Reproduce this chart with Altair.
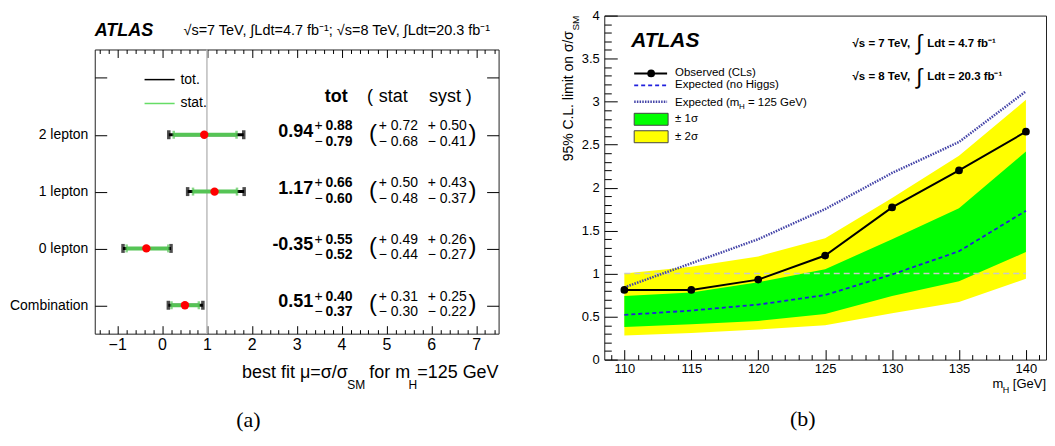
import altair as alt
import numpy as np
import pandas as pd

# ---------------- panel (a) data ----------------
categories = ["2 lepton", "1 lepton", "0 lepton", "Combination"]
mu_best = [0.94, 1.17, -0.35, 0.51]
tot_up = [0.88, 0.66, 0.55, 0.40]
tot_dn = [0.79, 0.60, 0.52, 0.37]
stat_up = [0.72, 0.50, 0.49, 0.31]
stat_dn = [0.68, 0.48, 0.44, 0.30]
syst_up = [0.50, 0.43, 0.26, 0.25]
syst_dn = [0.41, 0.37, 0.27, 0.22]
mu_sm = [1.0]
x_ticks_a = [-1, 0, 1, 2, 3, 4, 5, 6, 7]

# ---------------- panel (b) data ----------------
mass = [110, 115, 120, 125, 130, 135, 140]
observed = [0.81, 0.81, 0.93, 1.21, 1.77, 2.20, 2.65]
expected_nohiggs = [0.52, 0.57, 0.64, 0.75, 0.99, 1.26, 1.73]
expected_mh125 = [0.84, 1.12, 1.40, 1.75, 2.17, 2.53, 3.12]
band1_lo = [0.38, 0.41, 0.45, 0.53, 0.74, 0.91, 1.25]
band1_hi = [0.74, 0.78, 0.90, 1.05, 1.40, 1.76, 2.42]
band2_lo = [0.28, 0.31, 0.35, 0.40, 0.54, 0.67, 0.94]
band2_hi = [1.00, 1.08, 1.20, 1.41, 1.88, 2.37, 3.02]
x_ticks_b = [110, 115, 120, 125, 130, 135, 140]
y_ticks_b = [0, 0.5, 1, 1.5, 2, 2.5, 3, 3.5, 4]

FONT = "Liberation Sans"
MINUS = "\u2212"

# Arial / Liberation Sans advance widths (1/1000 em), for placing sub/superscripts
AW = {' ': 278, '%': 889, '(': 333, ')': 333, '.': 278, '/': 278, '=': 584, '[': 278,
      ']': 278, '+': 584, 'C': 722, 'E': 667, 'G': 778, 'H': 722, 'L': 556, 'M': 833,
      'S': 667, 'V': 667, 'a': 556, 'b': 556, 'c': 500, 'd': 556, 'e': 556, 'f': 278,
      'i': 222, 'l': 222, 'm': 833, 'n': 556, 'o': 556, 'p': 556, 'r': 333, 's': 500,
      't': 278, 'x': 500, 'μ': 576, 'σ': 600}
for _d in "0123456789":
    AW[_d] = 556


def tw(s, size):
    return sum(AW.get(c, 556) for c in s) * size / 1000.0


one = pd.DataFrame({"k": [0]})


def txt(text, x, y, size=12, bold=False, italic=False, align="left",
        baseline="middle", angle=0, font=FONT):
    kw = dict(text=text, align=align, baseline=baseline, fontSize=size,
              color="black", font=font)
    if bold:
        kw["fontWeight"] = "bold"
    if italic:
        kw["fontStyle"] = "italic"
    if angle:
        kw["angle"] = angle
    return alt.Chart(one).mark_text(**kw).encode(x=alt.value(x), y=alt.value(y))


def rich(pieces, x0, y0, align="left"):
    """Pieces (text, size, dy, dx) set one after another; leading blanks are
    turned into an x advance because SVG drops them."""
    total = sum(tw(p[0], p[1]) + p[3] for p in pieces)
    x = x0 - total if align == "right" else x0
    out = []
    for t, s, dy, dx in pieces:
        x += dx
        lead = len(t) - len(t.lstrip(" "))
        x += tw(" " * lead, s)
        body = t.lstrip(" ")
        out.append(txt(body, x, y0 + dy, size=s, baseline="alphabetic"))
        x += tw(body, s)
    return out


def tick_axis(orient, offset, values, size):
    return alt.Axis(orient=orient, offset=offset, values=values, tickSize=size,
                    labels=False, domain=False, title=None, grid=False,
                    tickColor="black", tickWidth=1)


# ======================= panel (a) =======================
W_A, H_A = 405, 285
xs_a = alt.Scale(domain=[-1.5, 7.5], nice=False, zero=False)
ys_a = alt.Scale(domain=[0, 5], nice=False, zero=False)

n = len(categories)
df_a = pd.DataFrame({
    "cat": categories,
    "row": [n - i - 0.5 for i in range(n)],
    "mu": mu_best,
    "tot_lo": [m - d for m, d in zip(mu_best, tot_dn)],
    "tot_hi": [m + u for m, u in zip(mu_best, tot_up)],
    "stat_lo": [m - d for m, d in zip(mu_best, stat_dn)],
    "stat_hi": [m + u for m, u in zip(mu_best, stat_up)],
    "mu_s": [f"{m:.2f}" for m in mu_best],
    "tu_s": [f"{v:.2f}" for v in tot_up],
    "td_s": [f"{v:.2f}" for v in tot_dn],
    "su_s": [f"+ {v:.2f}" for v in stat_up],
    "sd_s": [f"{MINUS} {v:.2f}" for v in stat_dn],
    "yu_s": [f"+ {v:.2f}" for v in syst_up],
    "yd_s": [f"{MINUS} {v:.2f}" for v in syst_dn],
})
rows = list(df_a["row"])
tick_rows = [float(v) for v in np.arange(0.5, 5.0, 1.0)]
minor_a = [round(float(v), 1) for v in np.arange(-1.4, 7.45, 0.2)
           if abs(v - round(v)) > 1e-6]
label_expr = " : ".join(f"datum.value == {r} ? '{c}'" for r, c in zip(rows, categories)) + " : ''"

base_a = alt.Chart(df_a)
GREEN_A = "#55c455"

vline = alt.Chart(pd.DataFrame({"mu_sm": mu_sm})).mark_rule(
    color="#bdbdbd", strokeWidth=1.5).encode(
    x=alt.X("mu_sm:Q", scale=xs_a,
            axis=alt.Axis(orient="bottom", offset=0, values=x_ticks_a, ticks=False,
                          domain=False, labelFontSize=16, labelPadding=3, title=None,
                          grid=False, labelColor="black", labelFont=FONT)))

tot_rule = base_a.mark_rule(color="black", strokeWidth=3).encode(
    x=alt.X("tot_lo:Q", scale=xs_a, axis=tick_axis("top", -H_A, x_ticks_a, 8)),
    x2="tot_hi:Q",
    y=alt.Y("row:Q", scale=ys_a,
            axis=alt.Axis(orient="left", offset=0, values=rows, labelExpr=label_expr,
                          ticks=False, domain=False, labelFontSize=14, labelPadding=7,
                          title=None, grid=False, labelColor="black", labelFont=FONT)))

stat_rule = base_a.mark_rule(color=GREEN_A, strokeWidth=4).encode(
    x=alt.X("stat_lo:Q", scale=xs_a, axis=tick_axis("top", -H_A, minor_a, 4)),
    x2="stat_hi:Q",
    y=alt.Y("row:Q", scale=ys_a, axis=tick_axis("right", -W_A, tick_rows, 12)))

cap_tot_lo = base_a.mark_tick(orient="vertical", color="black", size=9, thickness=3.5).encode(
    x=alt.X("tot_lo:Q", scale=xs_a, axis=tick_axis("bottom", -H_A, x_ticks_a, 8)),
    y=alt.Y("row:Q", scale=ys_a, axis=tick_axis("left", -W_A, tick_rows, 12)))
cap_tot_hi = base_a.mark_tick(orient="vertical", color="black", size=9, thickness=3.5).encode(
    x=alt.X("tot_hi:Q", scale=xs_a, axis=tick_axis("bottom", -H_A, minor_a, 4)),
    y=alt.Y("row:Q", scale=ys_a, axis=None))
cap_stat_lo = base_a.mark_tick(orient="vertical", color=GREEN_A, size=8, thickness=2.5).encode(
    x=alt.X("stat_lo:Q", scale=xs_a, axis=None), y=alt.Y("row:Q", scale=ys_a, axis=None))
cap_stat_hi = base_a.mark_tick(orient="vertical", color=GREEN_A, size=8, thickness=2.5).encode(
    x=alt.X("stat_hi:Q", scale=xs_a, axis=None), y=alt.Y("row:Q", scale=ys_a, axis=None))
points_a = base_a.mark_circle(size=70, color="#ff0000", opacity=1).encode(
    x=alt.X("mu:Q", scale=xs_a, axis=None), y=alt.Y("row:Q", scale=ys_a, axis=None))


def row_text(xval, dy, size, field=None, const=None, bold=False, align="left"):
    kw = dict(align=align, baseline="alphabetic", dy=dy, fontSize=size,
              color="black", font=FONT)
    if bold:
        kw["fontWeight"] = "bold"
    if const is not None:
        kw["text"] = const
    enc = dict(x=alt.XDatum(xval, scale=xs_a, axis=None),
               y=alt.Y("row:Q", scale=ys_a, axis=None))
    if field is not None:
        enc["text"] = alt.Text(f"{field}:N")
    return base_a.mark_text(**kw).encode(**enc)


texts_a = [
    row_text(3.37, 2, 18, field="mu_s", bold=True, align="right"),
    row_text(3.40, -4.5, 14, const="+"),
    row_text(3.40, 11, 14, const=MINUS),
    row_text(3.64, -4.5, 14, field="tu_s", bold=True),
    row_text(3.64, 11, 14, field="td_s", bold=True),
    row_text(4.61, 6, 24, const="("),
    row_text(4.83, -4.5, 14, field="su_s"),
    row_text(4.83, 11, 14, field="sd_s"),
    row_text(5.92, -4.5, 14, field="yu_s"),
    row_text(5.92, 11, 14, field="yd_s"),
    row_text(6.83, 6, 24, const=")"),
]


def dtext(text, xval, yval, size, bold=False, align="left"):
    kw = dict(text=text, align=align, baseline="middle", fontSize=size,
              color="black", font=FONT)
    if bold:
        kw["fontWeight"] = "bold"
    return alt.Chart(one).mark_text(**kw).encode(
        x=alt.XDatum(xval, scale=xs_a, axis=None),
        y=alt.YDatum(yval, scale=ys_a, axis=None))


header_a = [
    dtext("tot", 3.88, 4.16, 18, bold=True, align="center"),
    dtext("(", 4.57, 4.16, 18),
    dtext("stat", 4.83, 4.16, 18),
    dtext("syst", 5.95, 4.16, 18),
    dtext(")", 6.77, 4.16, 18),
    dtext("tot.", 0.41, 4.47, 14),
    dtext("stat.", 0.41, 4.05, 14),
]


def leg_line(color, yval):
    return alt.Chart(one).mark_rule(color=color, strokeWidth=1.5).encode(
        x=alt.XDatum(-0.39, scale=xs_a, axis=None), x2=alt.X2Datum(0.28),
        y=alt.YDatum(yval, scale=ys_a, axis=None))


legend_a = [leg_line("black", 4.47), leg_line("#66dd66", 4.05)]

xtitle_a = rich([("best fit μ=σ/σ", 18, 0, 0), ("SM", 12, 11, 0), (" for m", 18, 0, -1),
                 ("H", 12, 11, -1.5), ("=125 GeV", 18, 0, 0)], W_A, H_A + 44, align="right")
caption_a = txt("(a)", 154, 372, size=22, align="center", font="Liberation Serif")

panel_a = alt.layer(
    vline, tot_rule, stat_rule, cap_tot_lo, cap_tot_hi, cap_stat_lo, cap_stat_hi,
    points_a, *texts_a, *header_a, *legend_a, *xtitle_a, caption_a
).resolve_axis(x="independent", y="independent").properties(width=W_A, height=H_A)

hdr_a = alt.layer(
    txt("ATLAS", 0, 15, size=18, bold=True, italic=True),
    txt("√s=7 TeV, ∫Ldt=4.7 fb⁻¹; √s=8 TeV, ∫Ldt=20.3 fb⁻¹", 89, 15, size=14.5),
).properties(width=W_A, height=31, view=alt.ViewBackground(stroke="transparent"))

left = alt.vconcat(hdr_a, panel_a, spacing=0)

# ======================= panel (b) =======================
W_B, H_B = 443, 345
xs_b = alt.Scale(domain=[108.5, 141.5], nice=False, zero=False)
ys_b = alt.Scale(domain=[0, 4], nice=False, zero=False)

df_b = pd.DataFrame({"mass": mass, "obs": observed, "exp0": expected_nohiggs,
                     "exp125": expected_mh125, "b1lo": band1_lo, "b1hi": band1_hi,
                     "b2lo": band2_lo, "b2hi": band2_hi})
base_b = alt.Chart(df_b)
minor_xb = [v for v in range(109, 142) if v % 5]
minor_yb = [round(float(v), 1) for v in np.arange(0.1, 4.0, 0.1) if round(v * 10) % 5]

yellow = base_b.mark_area(color="#ffff00", opacity=1).encode(
    x=alt.X("mass:Q", scale=xs_b,
            axis=alt.Axis(orient="bottom", offset=0, values=x_ticks_b, ticks=False,
                          domain=False, labelFontSize=13, labelPadding=3, title=None,
                          grid=False, labelColor="black", labelFont=FONT)),
    y=alt.Y("b2lo:Q", scale=ys_b,
            axis=alt.Axis(orient="left", offset=0, values=y_ticks_b, format="~g",
                          ticks=False, domain=False, labelFontSize=13, labelPadding=5,
                          title=None, grid=False, labelColor="black", labelFont=FONT)),
    y2="b2hi:Q")
green = base_b.mark_area(color="#00ff00", opacity=1).encode(
    x=alt.X("mass:Q", scale=xs_b, axis=tick_axis("top", -H_B, x_ticks_b, 10)),
    y=alt.Y("b1lo:Q", scale=ys_b, axis=tick_axis("right", -W_B, y_ticks_b, 13)),
    y2="b1hi:Q")
hline = alt.Chart(pd.DataFrame({"x0": [mass[0]], "x1": [mass[-1]], "mu": mu_sm})).mark_rule(
    color="#c8c8c8", strokeDash=[6, 4], strokeWidth=1.5).encode(
    x=alt.X("x0:Q", scale=xs_b, axis=None), x2="x1:Q",
    y=alt.Y("mu:Q", scale=ys_b, axis=None))
exp125_line = base_b.mark_line(color="#4444a8", strokeWidth=2.5, strokeDash=[1.5, 1.2]).encode(
    x=alt.X("mass:Q", scale=xs_b, axis=None), y=alt.Y("exp125:Q", scale=ys_b, axis=None))
exp0_line = base_b.mark_line(color="#2020dd", strokeWidth=1.8, strokeDash=[4, 3]).encode(
    x=alt.X("mass:Q", scale=xs_b, axis=None), y=alt.Y("exp0:Q", scale=ys_b, axis=None))
obs_line = base_b.mark_line(color="black", strokeWidth=2).encode(
    x=alt.X("mass:Q", scale=xs_b, axis=tick_axis("top", -H_B, minor_xb, 5)),
    y=alt.Y("obs:Q", scale=ys_b, axis=tick_axis("right", -W_B, minor_yb, 7)))
obs_pts = base_b.mark_circle(size=60, color="black", opacity=1).encode(
    x=alt.X("mass:Q", scale=xs_b, axis=None), y=alt.Y("obs:Q", scale=ys_b, axis=None))


def pline(y, color, width, dash=None):
    kw = dict(color=color, strokeWidth=width)
    if dash:
        kw["strokeDash"] = dash
    return alt.Chart(one).mark_rule(**kw).encode(
        x=alt.value(30), x2=alt.value(63), y=alt.value(y))


def pbox(y0, y1, color):
    return alt.Chart(one).mark_rect(fill=color, stroke="#444444", strokeWidth=1).encode(
        x=alt.value(30), x2=alt.value(64), y=alt.value(y0), y2=alt.value(y1))


LEG = 11.5
legend_b = [
    pline(58, "black", 2),
    alt.Chart(one).mark_circle(size=60, color="black", opacity=1).encode(
        x=alt.value(47), y=alt.value(58)),
    txt("Observed (CLs)", 71, 58, size=LEG),
    pline(70, "#2020dd", 1.8, [4, 3]),
    txt("Expected (no Higgs)", 71, 70, size=LEG),
    pline(86.5, "#4444a8", 2.5, [1.5, 1.2]),
    *rich([("Expected (m", LEG, 0, 0), ("H", 8, 3, -0.5), (" = 125 GeV)", LEG, 0, 0)], 71, 90.5),
    pbox(98, 110, "#00ff00"),
    txt("± 1σ", 71, 104, size=LEG),
    pbox(115.5, 127.5, "#ffff00"),
    txt("± 2σ", 71, 121.5, size=LEG),
    txt("ATLAS", 27, 25, size=21, bold=True, italic=True),
    txt("√s = 7 TeV,", 249, 28, size=11.5, bold=True),
    txt("∫", 316, 28, size=22, align="center"),
    txt("Ldt = 4.7 fb⁻¹", 324, 28, size=11.5, bold=True),
    txt("√s = 8 TeV,", 249, 62, size=11.5, bold=True),
    txt("∫", 316, 62, size=22, align="center"),
    txt("Ldt = 20.3 fb⁻¹", 324, 62, size=11.5, bold=True),
]

ytitle_b = [
    txt("SM", -25, 0, size=10, align="right", baseline="alphabetic", angle=270),
    txt("95% C.L. limit on σ/σ", -31.5, tw("SM", 10) + 0.5, size=14, align="right",
        baseline="alphabetic", angle=270),
]
xtitle_b = rich([("m", 13, 0, 0), ("H", 9, 5, -0.5), (" [GeV]", 13, 0, 0)], W_B, H_B + 28,
                align="right")
caption_b = txt("(b)", 199, 405, size=22, align="center", font="Liberation Serif")

panel_b = alt.layer(
    yellow, green, hline, exp125_line, exp0_line, obs_line, obs_pts,
    *legend_b, *ytitle_b, *xtitle_b, caption_b
).resolve_axis(x="independent", y="independent").properties(width=W_B, height=H_B)

chart = alt.hconcat(left, panel_b, spacing=62).properties(
    padding={"left": 0, "top": 0, "right": 0, "bottom": 0}
).configure(font=FONT).configure_view(stroke="#222222", strokeWidth=1).configure_axis(
    grid=False, labelColor="black", tickColor="black", labelFont=FONT)

chart.save("out.html", embed_options={"renderer": "svg", "actions": False})
